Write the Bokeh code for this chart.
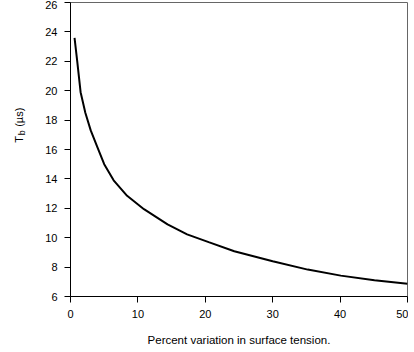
from math import pi
from bokeh.plotting import figure
from bokeh.layouts import row
from bokeh.models import FixedTicker, Range1d
from bokeh.core.properties import value
from bokeh.embed import file_html
from bokeh.resources import INLINE

# data
x_pct = [0.6, 1.0, 1.5, 2.2, 3.0, 4.0, 5.0, 6.4, 8.4, 10.9, 14.4, 17.3,
         20.5, 24.3, 30.0, 35.2, 40.1, 45.1, 50.0]
t_b = [23.6, 22.0, 19.9, 18.5, 17.3, 16.15, 15.0, 13.9, 12.85, 11.94, 10.91,
       10.23, 9.70, 9.08, 8.40, 7.83, 7.42, 7.10, 6.87]
x_ticks = [0, 10, 20, 30, 40, 50]
y_ticks = [6, 8, 10, 12, 14, 16, 18, 20, 22, 24, 26]
y_title_parts = ["T", "b", "(\u00b5s)"]

FONT = "Liberation Sans"
H = 350
LW = 40

# narrow panel that carries the rotated y-axis title (with subscript)
lab = figure(width=LW, height=H, x_range=Range1d(0, LW), y_range=Range1d(0, H),
             output_backend="svg", toolbar_location=None,
             min_border_left=0, min_border_right=0, min_border_top=0,
             min_border_bottom=0)
lab.axis.visible = False
lab.grid.visible = False
lab.outline_line_color = None
lab.background_fill_color = "white"
lab.border_fill_color = "white"
lab.text(x=[18.5], y=[H - 170 + 3], text=[y_title_parts[0]], angle=pi / 2,
         text_align="left", text_baseline="alphabetic",
         text_font=value(FONT), text_font_size="11px", text_color="black")
lab.text(x=[21], y=[H - 161 + 3], text=[y_title_parts[1]], angle=pi / 2,
         text_align="left", text_baseline="alphabetic",
         text_font=value(FONT), text_font_size="9px", text_color="black")
lab.text(x=[18.5], y=[H - 151 + 3], text=[y_title_parts[2]], angle=pi / 2,
         text_align="left", text_baseline="alphabetic",
         text_font=value(FONT), text_font_size="11px", text_color="black")

p = figure(width=408 - LW, height=H, x_range=Range1d(0, 50), y_range=Range1d(6, 26),
           output_backend="svg", toolbar_location=None,
           min_border_left=70 - LW, min_border_right=1, min_border_top=2,
           min_border_bottom=54)
p.background_fill_color = "white"
p.border_fill_color = "white"
p.outline_line_color = "#666666"
p.outline_line_width = 1
p.xgrid.visible = False
p.ygrid.visible = False

p.line(x_pct, t_b, line_color="black", line_width=2)

for ax in (p.xaxis[0], p.yaxis[0]):
    ax.axis_line_color = "black"
    ax.axis_line_width = 1
    ax.major_tick_line_color = "black"
    ax.major_tick_out = 6
    ax.major_tick_in = 0
    ax.minor_tick_line_color = None
    ax.major_label_text_font = FONT
    ax.major_label_text_font_size = "11px"
    ax.major_label_text_color = "black"
    ax.major_label_standoff = 7

p.xaxis[0].ticker = FixedTicker(ticks=x_ticks)
p.yaxis[0].ticker = FixedTicker(ticks=y_ticks)

p.xaxis[0].axis_label = "Percent variation in surface tension."
p.xaxis[0].axis_label_text_font = FONT
p.xaxis[0].axis_label_text_font_size = "11.5px"
p.xaxis[0].axis_label_text_font_style = "normal"
p.xaxis[0].axis_label_text_color = "black"
p.xaxis[0].axis_label_standoff = 13

layout = row(lab, p, spacing=0)
open("out.html", "w").write(file_html(layout, INLINE))
